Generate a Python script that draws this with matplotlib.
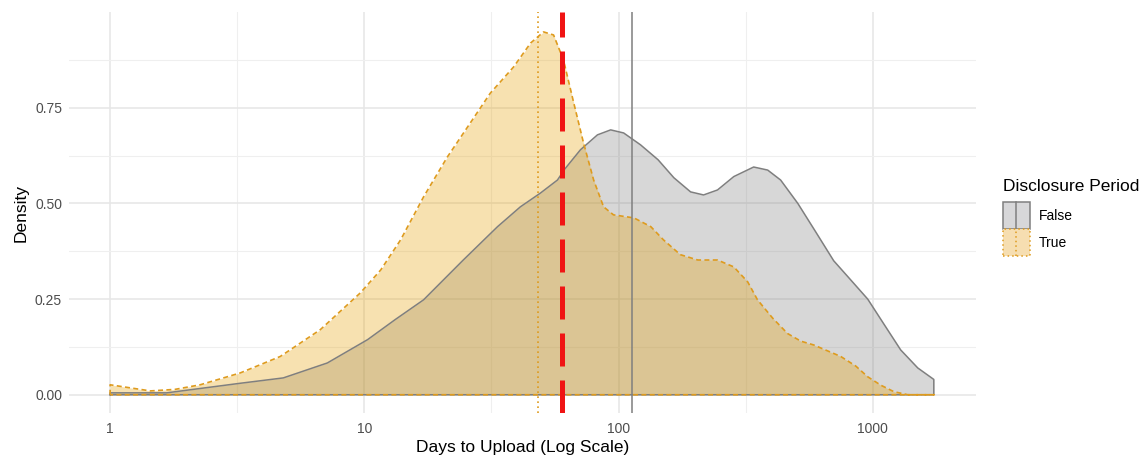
import matplotlib
matplotlib.use("Agg")
import matplotlib.pyplot as plt
from matplotlib.legend_handler import HandlerBase
from matplotlib.patches import Rectangle
from matplotlib.lines import Line2D

plt.rcParams['font.family'] = ['Liberation Sans', 'DejaVu Sans']

# density curves (days, density)
false_days = [1.0, 1.67, 3.25, 4.80, 7.15, 10.3, 13.2, 17.1, 24.5, 33.4, 41.1, 49.3,
              57.5, 61.5, 70.8, 82.6, 93.1, 104.7, 122, 143, 165, 192, 216, 245, 284,
              340, 386, 434, 507, 597, 702, 819, 955, 1105, 1288, 1503, 1738]
false_dens = [0.005, 0.005, 0.03, 0.044, 0.083, 0.144, 0.196, 0.248, 0.352, 0.439, 0.491, 0.527,
              0.561, 0.59, 0.64, 0.679, 0.692, 0.684, 0.653, 0.614, 0.567, 0.53, 0.522, 0.535, 0.57,
              0.595, 0.587, 0.561, 0.50, 0.425, 0.35, 0.30, 0.25, 0.185, 0.117, 0.07, 0.04]

true_days = [1.0, 1.20, 1.44, 1.80, 2.26, 3.25, 4.67, 6.71, 9.64, 11.6, 13.9, 17.1,
             21.2, 25.5, 31.3, 38.6, 45.1, 50.7, 55.5, 60.7, 66.5, 72.8, 79.8, 87.3,
             95.5, 115, 134, 150, 175, 205, 245, 284, 322, 352, 404, 462, 521, 586,
             748, 857, 955, 1075, 1211, 1374, 1738]
true_dens = [0.026, 0.018, 0.010, 0.014, 0.026, 0.057, 0.10, 0.17, 0.266, 0.326, 0.405, 0.517,
             0.621, 0.70, 0.788, 0.856, 0.919, 0.948, 0.94, 0.875, 0.765, 0.658, 0.561, 0.491,
             0.47, 0.462, 0.439, 0.405, 0.366, 0.352, 0.352, 0.334, 0.295, 0.248, 0.20, 0.16, 0.14, 0.13,
             0.10, 0.075, 0.047, 0.025, 0.008, 0.0, 0.0]

# reference lines (days)
false_ref = 112.5
true_ref = 48.4
cutoff = 59.7

gray_line = '#7f7f7f'
gray_fill = '#7f7f7f'
orange_line = '#DE9B1E'
orange_fill = '#E69F00'

fig = plt.figure(figsize=(11.41, 4.59), dpi=100)
ax = fig.add_axes([69 / 1141, 1 - 413 / 459, (976 - 69) / 1141, (413 - 12) / 459])

ax.fill_between(false_days, false_dens, 0, color=gray_fill, alpha=0.31, lw=0)
ax.fill_between(true_days, true_dens, 0, color=orange_fill, alpha=0.31, lw=0)

# outlines (full polygon, like ggplot outline.type = "full")
ax.plot([false_days[0]] + false_days + [false_days[-1], false_days[0]],
        [0] + false_dens + [0, 0], color=gray_line, lw=1.1)
ax.plot([true_days[0]] + true_days + [true_days[-1], true_days[0]],
        [0] + true_dens + [0, 0], color=orange_line, lw=1.2, ls=(0, (3, 2)))

ax.axvline(false_ref, color=gray_line, lw=1.1)
ax.axvline(true_ref, color=orange_line, lw=1.2, ls=(0, (1, 2)))
ax.axvline(cutoff, color='#F01414', lw=3.6, ls=(0, (6.6, 2.8)))

ax.set_xscale('log')
ax.set_xlim(0.689, 2547)
ax.set_ylim(-0.0477, 1.0)
ax.set_xticks([1, 10, 100, 1000], ['1', '10', '100', '1000'])
ax.set_xticks([10 ** 0.5, 10 ** 1.5, 10 ** 2.5], minor=True)
ax.set_xticklabels([], minor=True)
ax.set_yticks([0, 0.25, 0.5, 0.75], ['0.00', '0.25', '0.50', '0.75'])
ax.set_yticks([0.125, 0.375, 0.625, 0.875], minor=True)

ax.grid(True, which='major', color='#E6E6E6', lw=1.1)
ax.grid(True, which='minor', color='#EFEFEF', lw=0.8)
ax.set_axisbelow(True)
for s in ax.spines.values():
    s.set_visible(False)
ax.tick_params(which='both', length=0, labelsize=10, labelcolor='#4D4D4D')
ax.tick_params(axis='x', pad=6.5)
ax.tick_params(axis='y', pad=5)

ax.set_xlabel('Days to Upload (Log Scale)', fontsize=12.5, labelpad=3)
ax.set_ylabel('Density', fontsize=12.5, labelpad=4.5)


class KeyHandler(HandlerBase):
    def create_artists(self, legend, orig_handle, xdescent, ydescent, width, height, fontsize, trans):
        fc, ec, ls = orig_handle
        rect = Rectangle((-xdescent, -ydescent), width, height, facecolor=fc,
                         edgecolor=ec, lw=1.1, ls=ls, transform=trans)
        line = Line2D([-xdescent + width / 2] * 2, [-ydescent, -ydescent + height],
                      color=ec, lw=1.1, ls=ls, transform=trans)
        return [rect, line]


h_false = ('#D7D7D9', gray_line, '-')
h_true = ('#F6DEB1', orange_line, (0, (1, 2)))
leg = fig.legend([h_false, h_true], ['False', 'True'], title='Disclosure Period',
                 handler_map={tuple: KeyHandler()}, loc='upper left',
                 bbox_to_anchor=(997 / 1141, 1 - 173 / 459), frameon=False,
                 fontsize=10, title_fontsize=12.5, handlelength=1.94, handleheight=2.61,
                 labelspacing=0.0, handletextpad=0.65, alignment='left', borderaxespad=0)
leg._legend_box.sep = 6

fig.savefig('out.png', dpi=100)
